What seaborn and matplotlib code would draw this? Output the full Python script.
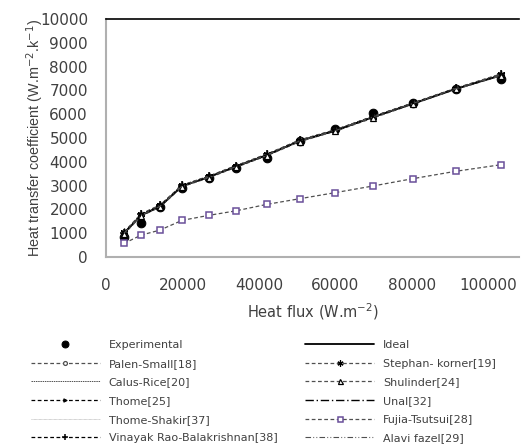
import matplotlib
matplotlib.use("Agg")
import numpy as np
import pandas as pd
import matplotlib.pyplot as plt
import seaborn as sns

# Values
heat_flux = [4700, 9200, 14100, 19900, 26900, 34000, 42000, 50700, 59800, 69700, 80200, 91400, 103400]

experimental = [850, 1440, 2100, 2920, 3330, 3760, 4180, 4860, 5360, 6060, 6450, 7060, 7500]
ideal = [1000, 1750, 2120, 2980, 3360, 3800, 4280, 4880, 5300, 5870, 6440, 7060, 7640]
palen_small = [980, 1780, 2150, 2990, 3370, 3810, 4290, 4900, 5320, 5890, 6460, 7080, 7660]
stephan_korner = [1050, 1820, 2180, 3020, 3400, 3840, 4320, 4920, 5340, 5900, 6470, 7090, 7700]
calus_rice = [990, 1760, 2130, 2980, 3360, 3800, 4270, 4880, 5300, 5880, 6450, 7070, 7650]
shulinder = [960, 1720, 2100, 2950, 3330, 3770, 4250, 4850, 5280, 5830, 6420, 7040, 7620]
thome = [1000, 1770, 2140, 2990, 3370, 3810, 4280, 4890, 5310, 5880, 6450, 7070, 7650]
unal = [1010, 1760, 2130, 2980, 3360, 3800, 4280, 4880, 5300, 5870, 6440, 7060, 7640]
thome_shakir = [990, 1750, 2120, 2970, 3350, 3790, 4270, 4870, 5290, 5870, 6440, 7060, 7630]
fujia_tsutsui = [570, 920, 1130, 1540, 1750, 1940, 2210, 2450, 2700, 2980, 3290, 3600, 3880]
vinayak_rao = [1020, 1800, 2170, 3010, 3390, 3830, 4310, 4910, 5330, 5900, 6460, 7080, 7680]
alavi_fazel = [1000, 1760, 2130, 2980, 3360, 3800, 4280, 4880, 5300, 5880, 6450, 7070, 7650]

sns.set_style("white")
plt.rcParams['font.family'] = ['DejaVu Sans']

fig = plt.figure(figsize=(5.24, 4.46), dpi=100)
ax = fig.add_axes([106 / 524, 1 - 257 / 446, 413 / 524, 238 / 446])

grey = '#505050'
dash = (0, (3, 2))
series = [
    ("Experimental", experimental, dict(color='black', marker='o', markersize=6.2, mec='black', linestyle='none')),
    ("Palen-Small[18]", palen_small, dict(color=grey, marker='o', markersize=3.5, markerfacecolor='white',
                                         mec=grey, mew=0.9, linestyle=dash, lw=0.9)),
    ("Calus-Rice[20]", calus_rice, dict(color=grey, linestyle=(0, (1.5, 0.8)), lw=0.7)),
    ("Thome[25]", thome, dict(color='black', marker='>', markersize=3, mec='black', linestyle=dash, lw=0.9)),
    ("Thome-Shakir[37]", thome_shakir, dict(color='#9a9a9a', linestyle=(0, (0.6, 0.6)), lw=0.5)),
    ("Vinayak Rao-Balakrishnan[38]", vinayak_rao, dict(color='black', marker='+', markersize=6, mec='black',
                                                      mew=1.1, linestyle=dash, lw=0.9)),
    ("Ideal", ideal, dict(color='black', linestyle='-', lw=1.3)),
    ("Stephan- korner[19]", stephan_korner, dict(color=grey, marker=(6, 2, 0), markersize=5.5, mec='black',
                                                mew=0.9, linestyle=dash, lw=0.9)),
    ("Shulinder[24]", shulinder, dict(color=grey, marker='^', markersize=4.5, markerfacecolor='white',
                                     mec='black', mew=0.9, linestyle=dash, lw=0.9)),
    ("Unal[32]", unal, dict(color='black', linestyle=(0, (6, 2, 1, 2)), lw=1.0)),
    ("Fujia-Tsutsui[28]", fujia_tsutsui, dict(color=grey, marker='s', markersize=4.5, markerfacecolor='white',
                                             mec='#6a4f9a', mew=1.1, linestyle=dash, lw=0.9)),
    ("Alavi fazel[29]", alavi_fazel, dict(color=grey, linestyle=(0, (5, 2, 0.8, 2, 0.8, 2)), lw=0.8)),
]

for name, vals, style in series:
    df = pd.DataFrame({'q': heat_flux, 'h': vals})
    sns.lineplot(data=df, x='q', y='h', ax=ax, label=name, **style)

ax.set_xlim(0, 108000)
ax.set_ylim(0, 10000)
ax.set_xticks([0, 20000, 40000, 60000, 80000, 100000])
ax.set_yticks(np.arange(0, 10001, 1000))

for side in ['left', 'bottom']:
    ax.spines[side].set_color('#b0b0b0')
    ax.spines[side].set_linewidth(1.5)
ax.spines['top'].set_color('black')
ax.spines['top'].set_linewidth(1.2)
ax.spines['right'].set_visible(False)

ax.tick_params(axis='both', direction='in', length=5, width=1, color='#b0b0b0',
               labelsize=11, labelcolor='#404040')
ax.tick_params(axis='x', pad=15)
ax.tick_params(axis='y', pad=13)

ax.set_xlabel('Heat flux (W.m$^{-2}$)', fontsize=10.5, color='#404040', labelpad=6)
ax.set_ylabel('Heat transfer coefficient (W.m$^{-2}$.k$^{-1}$)', fontsize=10.4,
              color='#404040', family='Liberation Sans')
ax.yaxis.set_label_coords(-0.145, 0.5)

handles, labels = ax.get_legend_handles_labels()
ax.get_legend().remove()
fig.legend(handles, labels, ncol=2, loc='upper left', bbox_to_anchor=(31 / 524, 1 - 340 / 446),
           frameon=False, fontsize=8, labelcolor='#404040', handlelength=6.2, handletextpad=0.8,
           columnspacing=2.5, labelspacing=0.78, borderpad=0, borderaxespad=0, markerscale=0.8)

fig.savefig('out.png', dpi=100)
